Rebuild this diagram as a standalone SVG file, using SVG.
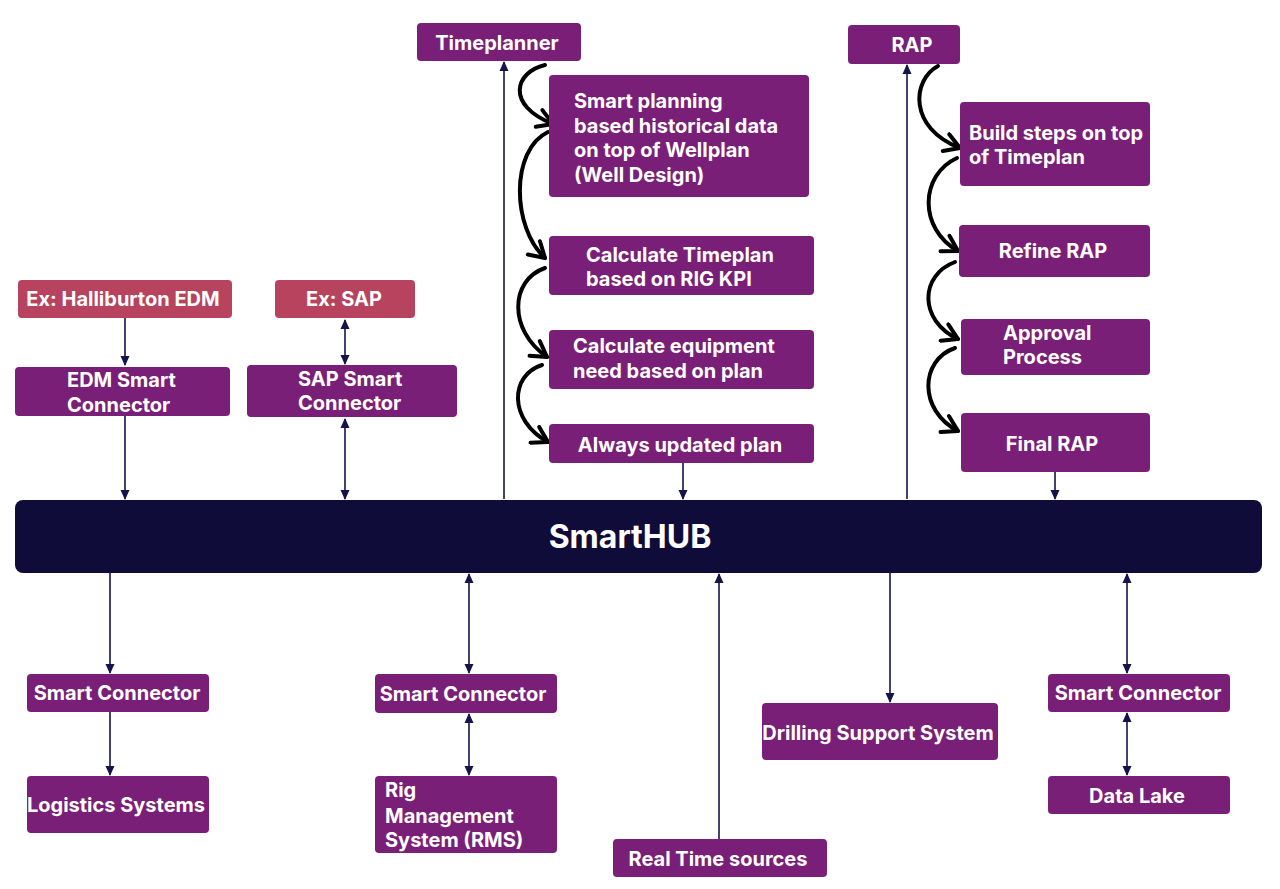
<svg xmlns="http://www.w3.org/2000/svg" width="1280" height="889" viewBox="0 0 1280 889">
<defs>
<marker id="ah" markerUnits="userSpaceOnUse" markerWidth="10" markerHeight="10" viewBox="0 0 10 10" refX="9" refY="5" orient="auto-start-reverse">
<path d="M0,0.5 L10,5 L0,9.5 Z" fill="#14134a"/>
</marker>
<marker id="ch" markerUnits="userSpaceOnUse" markerWidth="22" markerHeight="22" viewBox="0 0 22 22" refX="18" refY="11" orient="auto">
<path d="M3,2 L18,11 L3,20" fill="none" stroke="#000" stroke-width="4" stroke-linecap="round" stroke-linejoin="round"/>
</marker>
<style>
.b{fill:#7a1f78}
.p{fill:#b8435f}
.t{font-family:Inter,"Liberation Sans",sans-serif;font-weight:700;font-size:20px;fill:#fff}
.c{text-anchor:middle}
.l{stroke:#14134a;stroke-width:1.6;fill:none}
.cu{stroke:#000;stroke-width:4;fill:none;stroke-linecap:round}
</style>
</defs>
<rect width="1280" height="889" fill="#fff"/>

<g id="connectors">
<line class="l" x1="125" y1="318" x2="125" y2="365" marker-end="url(#ah)"/>
<line class="l" x1="125" y1="416" x2="125" y2="499" marker-end="url(#ah)"/>
<line class="l" x1="345" y1="320" x2="345" y2="364" marker-start="url(#ah)" marker-end="url(#ah)"/>
<line class="l" x1="345" y1="419" x2="345" y2="499" marker-start="url(#ah)" marker-end="url(#ah)"/>
<line class="l" x1="504" y1="499" x2="504" y2="62" marker-end="url(#ah)"/>
<line class="l" x1="683" y1="463" x2="683" y2="499" marker-end="url(#ah)"/>
<line class="l" x1="907" y1="499" x2="907" y2="65" marker-end="url(#ah)"/>
<line class="l" x1="1055" y1="472" x2="1055" y2="499" marker-end="url(#ah)"/>
<line class="l" x1="110" y1="573" x2="110" y2="673" marker-end="url(#ah)"/>
<line class="l" x1="110" y1="712" x2="110" y2="775" marker-end="url(#ah)"/>
<line class="l" x1="469" y1="574" x2="469" y2="673" marker-start="url(#ah)" marker-end="url(#ah)"/>
<line class="l" x1="469" y1="714" x2="469" y2="775" marker-start="url(#ah)" marker-end="url(#ah)"/>
<line class="l" x1="719" y1="839" x2="719" y2="574" marker-end="url(#ah)"/>
<line class="l" x1="890" y1="573" x2="890" y2="702" marker-end="url(#ah)"/>
<line class="l" x1="1127" y1="574" x2="1127" y2="673" marker-start="url(#ah)" marker-end="url(#ah)"/>
<line class="l" x1="1127" y1="713" x2="1127" y2="775" marker-start="url(#ah)" marker-end="url(#ah)"/>

<path class="cu" d="M545,65 C515,72 505,105 553,124" marker-end="url(#ch)"/>
<path class="cu" d="M548,132 C510,150 512,228 545,258" marker-end="url(#ch)"/>
<path class="cu" d="M545,268 C510,280 508,330 547,357" marker-end="url(#ch)"/>
<path class="cu" d="M542,365 C510,375 508,420 548,442" marker-end="url(#ch)"/>
<path class="cu" d="M938,66 C912,80 908,128 960,148" marker-end="url(#ch)"/>
<path class="cu" d="M957,158 C920,175 918,228 958,251" marker-end="url(#ch)"/>
<path class="cu" d="M955,262 C920,275 918,320 958,339" marker-end="url(#ch)"/>
<path class="cu" d="M955,348 C920,360 918,410 958,431" marker-end="url(#ch)"/>
</g>

<g id="smarthub"><rect x="15" y="500" width="1247" height="73" rx="8" fill="#100c3a"/><text class="t c" x="630" y="548" style="font-size:32px">SmartHUB</text></g>

<g id="timeplanner"><rect class="b" x="417" y="23" width="164" height="38" rx="4"/><text class="t c" x="497" y="50">Timeplanner</text></g>
<g id="rap"><rect class="b" x="848" y="25" width="112" height="39" rx="4"/><text class="t c" x="912" y="52">RAP</text></g>

<g id="smart-planning"><rect class="b" x="549" y="75" width="260" height="122" rx="4"/>
<text class="t" x="574" y="108">Smart planning</text><text class="t" x="574" y="133">based historical data</text><text class="t" x="574" y="157">on top of Wellplan</text><text class="t" x="574" y="182">(Well Design)</text></g>
<g id="calc-timeplan"><rect class="b" x="549" y="236" width="265" height="59" rx="4"/>
<text class="t" x="586" y="262">Calculate Timeplan</text><text class="t" x="586" y="286">based on RIG KPI</text></g>
<g id="calc-equipment"><rect class="b" x="549" y="330" width="265" height="59" rx="4"/>
<text class="t" x="573" y="353">Calculate equipment</text><text class="t" x="573" y="378">need based on plan</text></g>
<g id="always-updated"><rect class="b" x="549" y="424" width="265" height="39" rx="4"/>
<text class="t c" x="680" y="452">Always updated plan</text></g>

<g id="build-steps"><rect class="b" x="960" y="102" width="190" height="84" rx="4"/>
<text class="t" x="969" y="140">Build steps on top</text><text class="t" x="969" y="164">of Timeplan</text></g>
<g id="refine-rap"><rect class="b" x="959" y="225" width="191" height="52" rx="4"/>
<text class="t c" x="1053" y="258">Refine RAP</text></g>
<g id="approval"><rect class="b" x="961" y="319" width="189" height="56" rx="4"/>
<text class="t" x="1003" y="340">Approval</text><text class="t" x="1003" y="364">Process</text></g>
<g id="final-rap"><rect class="b" x="961" y="413" width="189" height="59" rx="4"/>
<text class="t c" x="1052" y="451">Final RAP</text></g>

<g id="ex-halliburton"><rect class="p" x="18" y="280" width="214" height="38" rx="4"/><text class="t c" x="123" y="306">Ex: Halliburton EDM</text></g>
<g id="ex-sap"><rect class="p" x="275" y="280" width="140" height="38" rx="4"/><text class="t c" x="344" y="306">Ex: SAP</text></g>
<g id="edm-connector"><rect class="b" x="15" y="367" width="215" height="49" rx="4"/>
<text class="t" x="67" y="387">EDM Smart</text><text class="t" x="67" y="412">Connector</text></g>
<g id="sap-connector"><rect class="b" x="247" y="365" width="210" height="52" rx="4"/>
<text class="t" x="298" y="386">SAP Smart</text><text class="t" x="298" y="410">Connector</text></g>

<g id="smart-connector-1"><rect class="b" x="27" y="674" width="182" height="38" rx="4"/><text class="t c" x="117" y="700">Smart Connector</text></g>
<g id="logistics"><rect class="b" x="27" y="776" width="182" height="57" rx="4"/><text class="t c" x="116" y="812">Logistics Systems</text></g>
<g id="smart-connector-2"><rect class="b" x="375" y="674" width="182" height="39" rx="4"/><text class="t c" x="463" y="701">Smart Connector</text></g>
<g id="rms"><rect class="b" x="375" y="776" width="182" height="77" rx="4"/>
<text class="t" x="385" y="797">Rig</text><text class="t" x="385" y="823">Management</text><text class="t" x="385" y="847">System (RMS)</text></g>
<g id="real-time"><rect class="b" x="613" y="839" width="214" height="38" rx="4"/><text class="t c" x="718" y="866">Real Time sources</text></g>
<g id="drilling-support"><rect class="b" x="762" y="703" width="236" height="57" rx="4"/><text class="t c" x="878" y="740">Drilling Support System</text></g>
<g id="smart-connector-3"><rect class="b" x="1048" y="674" width="182" height="38" rx="4"/><text class="t c" x="1138" y="700">Smart Connector</text></g>
<g id="data-lake"><rect class="b" x="1048" y="776" width="182" height="38" rx="4"/><text class="t c" x="1137" y="803">Data Lake</text></g>
</svg>
